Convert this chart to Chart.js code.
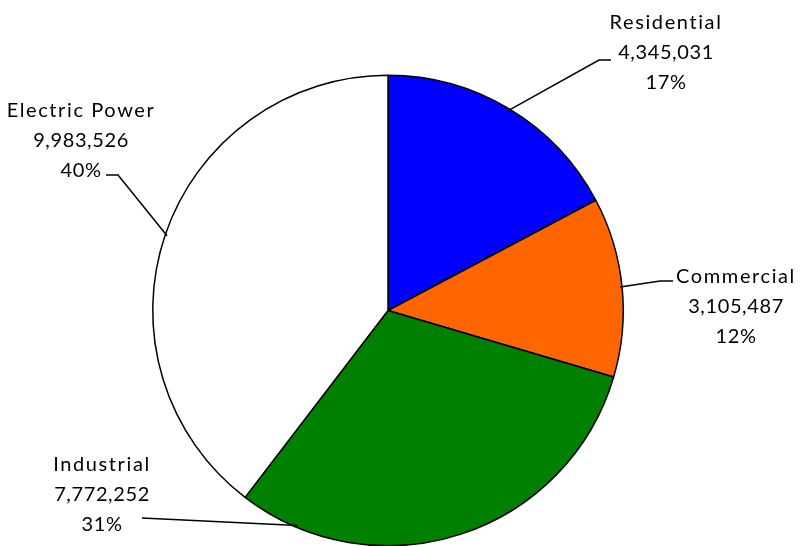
<!DOCTYPE html>
<html>
<head>
<meta charset="utf-8">
<script src="https://cdn.jsdelivr.net/npm/chart.js@4"></script>
<style>
    html, body { margin: 0; padding: 0; background: #fff; overflow: hidden; }
    #wrap { position: absolute; left: 0; top: 0; width: 801px; height: 560px; }
</style>
</head>
<body>
<div id="wrap"><canvas id="pie"></canvas></div>
<script>
let categories = ['Residential', 'Commercial', 'Industrial', 'Electric Power'];
let values = [4345031, 3105487, 7772252, 9983526];
let colors = ['#0000FF', '#FF6600', '#008000', '#FFFFFF'];

// where Excel put each label block, and where its leader line touches the pie
let labelSpots = [
    { x: 666, y: 23, elbow: [599, 60], lineStart: [611, 60], angle: null },
    { x: 736, y: 277, elbow: [660, 281], lineStart: [673, 281], angle: null },
    { x: 102, y: 465, elbow: null, lineStart: [142, 518], angle: 112.8 },
    { x: 81, y: 111, elbow: [118, 175], lineStart: [106, 175], angle: null }
];

function fmt(n) {
    return n.toLocaleString('en-US');
}

let total = values.reduce((a, b) => a + b, 0);

let labelPlugin = {
    id: 'labels',
    afterDraw(chart) {
        let ctx = chart.ctx;
        let meta = chart.getDatasetMeta(0);
        ctx.save();
        ctx.font = '20px Lato, "Open Sans", sans-serif';
        ctx.fillStyle = '#000';
        ctx.textAlign = 'center';
        ctx.textBaseline = 'middle';
        ctx.strokeStyle = '#000';
        ctx.lineWidth = 1.5;

        for (let i = 0; i < meta.data.length; i++) {
            let arc = meta.data[i];
            let spot = labelSpots[i];
            let mid;
            if (spot.angle !== null) {
                mid = spot.angle * Math.PI / 180;
            } else {
                mid = (arc.startAngle + arc.endAngle) / 2;
            }
            let r = arc.outerRadius - 2;
            let ax = arc.x + Math.cos(mid) * r;
            let ay = arc.y + Math.sin(mid) * r;

            ctx.beginPath();
            ctx.moveTo(spot.lineStart[0], spot.lineStart[1]);
            if (spot.elbow) ctx.lineTo(spot.elbow[0], spot.elbow[1]);
            ctx.lineTo(ax, ay);
            ctx.stroke();

            let pct = Math.round(values[i] / total * 100) + '%';
            let lines = [categories[i], fmt(values[i]), pct];
            for (let k = 0; k < lines.length; k++) {
                ctx.letterSpacing = k === 0 ? '1.6px' : '0.6px';
                ctx.fillText(lines[k], spot.x, spot.y + k * 30);
            }
        }
        ctx.restore();
    }
};

new Chart(document.getElementById('pie'), {
    type: 'pie',
    data: {
        labels: categories,
        datasets: [{
            data: values,
            backgroundColor: colors,
            borderColor: '#000',
            borderWidth: 1.5
        }]
    },
    options: {
        responsive: true,
        maintainAspectRatio: false,
        animation: false,
        layout: { padding: { left: 152, right: 177, top: 74, bottom: 13 } },
        plugins: {
            legend: { display: false },
            tooltip: { enabled: false }
        }
    },
    plugins: [labelPlugin]
});
</script>
</body>
</html>
